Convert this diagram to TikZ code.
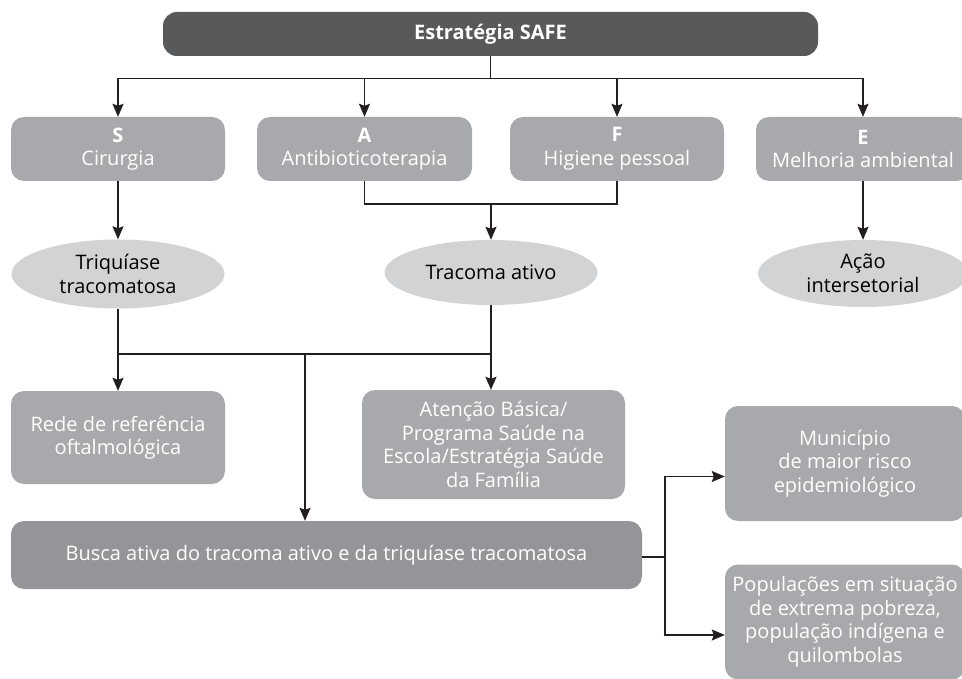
\documentclass[tikz,border=0pt]{standalone}
\usepackage{fontspec}
\setmainfont{Open Sans}
\usetikzlibrary{arrows.meta,shapes}
\definecolor{topgray}{HTML}{58595B}
\definecolor{boxgray}{HTML}{A7A9AC}
\definecolor{busgray}{HTML}{939598}
\definecolor{ovalgray}{HTML}{D1D3D4}
\definecolor{linegray}{HTML}{231F20}
\tikzstyle{safetop} = [fill=topgray, text=white, rounded corners=14pt, font=\fontsize{20}{23.5}\selectfont\bfseries, inner sep=0pt]
\tikzstyle{safebox} = [fill=boxgray, text=white, rounded corners=13pt, align=center, inner sep=0pt]
\tikzstyle{safeoval} = [ellipse, fill=ovalgray, text=black, align=center, inner sep=0pt]
\tikzstyle{safeline} = [draw=linegray, line width=1.3pt]
\tikzstyle{safelink} = [draw=linegray, line width=1.3pt, ->, >={Stealth[length=13pt, width=11pt, inset=2pt]}]
\newcommand{\safenode}[6]{
  \node[#1, minimum width=#4, minimum height=#5] (#2) at #3 {#6};
}

\begin{document}
\begin{tikzpicture}[x=1pt, y=-1pt]
\tikzstyle{every node}=[font=\fontsize{20}{23.5}\selectfont]
\useasboundingbox (0,0) rectangle (962,679);
\safenode{safetop}{safe}{(490.5,34)}{655pt}{44pt}{Estratégia SAFE}
\safenode{safebox}{s}{(118,149)}{214pt}{64pt}{\textbf{S}\\Cirurgia}
\safenode{safebox}{a}{(364.5,149)}{215pt}{64pt}{\textbf{A}\\Antibioticoterapia}
\safenode{safebox}{f}{(617,149)}{214pt}{64pt}{\textbf{F}\\Higiene pessoal}
\safenode{safebox}{e}{(863,149)}{214pt}{64pt}{\textbf{E}\\Melhoria ambiental}
\safenode{safeoval}{tri}{(118,274)}{213pt}{69pt}{Triquíase\\tracomatosa}
\safenode{safeoval}{trac}{(491,272.5)}{213pt}{65pt}{Tracoma ativo}
\safenode{safeoval}{acao}{(863,273.5)}{210pt}{67pt}{Ação\\intersetorial}
\safenode{safebox}{rede}{(118,437.5)}{214pt}{93pt}{Rede de referência\\oftalmológica}
\safenode{safebox}{aten}{(493.5,444.5)}{263pt}{109pt}{Atenção Básica/\\Programa Saúde na\\Escola/Estratégia Saúde\\da Família}
\safenode{safebox, fill=busgray}{busca}{(326.5,555)}{631pt}{68pt}{Busca ativa do tracoma ativo e da triquíase tracomatosa}
\safenode{safebox}{mun}{(845,463.5)}{240pt}{115pt}{Município\\de maior risco\\epidemiológico}
\safenode{safebox}{pop}{(845,622)}{240pt}{115pt}{Populações em situação\\de extrema pobreza,\\população indígena e\\quilombolas}

% SAFE
\draw[safelink] (safe.south) -- ++(0,22) -| (s.north);
\draw[safelink] (safe.south) ++(0,22) -| (a.north);
\draw[safelink] (safe.south) ++(0,22) -| (f.north);
\draw[safelink] (safe.south) ++(0,22) -| (e.north);

\coordinate (af) at (491,204);
\coordinate (mid) at (305,354);
\coordinate (rj) at (665,557);

\draw[safelink] (s) -- (tri);
\draw[safeline] (a.south) |- (af) -| (f.south);
\draw[safelink] (af) -- (trac);
\draw[safelink] (e) -- (acao);

\draw[safeline] (tri.south) |- (mid) -| (trac.south);
\draw[safelink] (tri.south |- mid) -- (rede.north);
\draw[safelink] (trac.south |- mid) -- (trac.south |- aten.north);
\draw[safelink] (mid) -- (mid |- busca.north);

\draw[safeline] (busca.east |- rj) -- (rj);
\draw[safelink] (rj) |- ([yshift=-13pt]mun.west);
\draw[safelink] (rj) |- ([yshift=-13pt]pop.west);
\end{tikzpicture}
\end{document}
